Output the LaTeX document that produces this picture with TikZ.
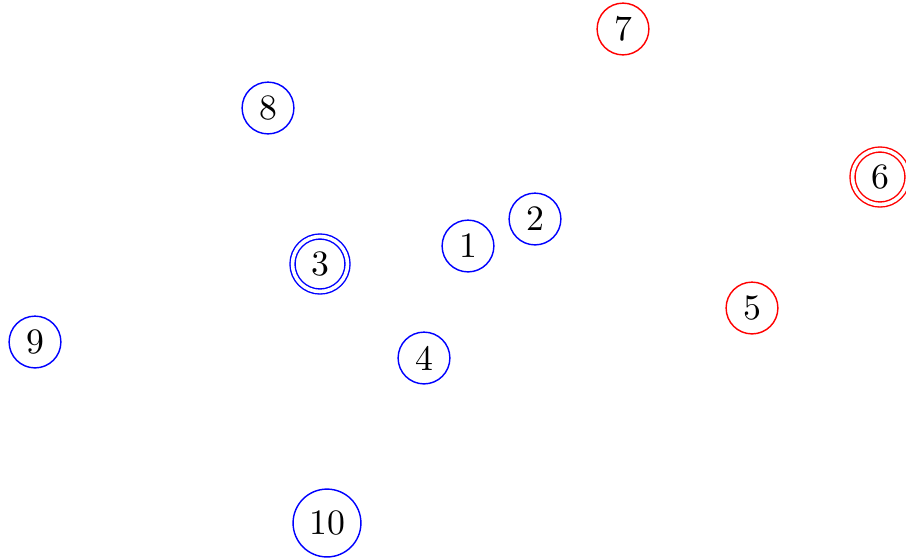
\documentclass[tikz,border=0pt]{standalone}
\begin{document}
\begin{tikzpicture}[x=0.28pt,y=-0.28pt,
  st/.style={circle,draw,inner sep=0pt,minimum size=14.5pt,line width=0.4pt},
  bl/.style={st,draw=blue},
  rd/.style={st,draw=red},
  acc/.style={double,double distance=1pt,minimum size=15.4pt}]
\useasboundingbox (0,0) rectangle (906,557);
\node[rd] (n7) at (623,29) {7};
\node[bl] (n8) at (268,108) {8};
\node[rd,acc] (n6) at (880,177) {6};
\node[bl] (n2) at (535,219) {2};
\node[bl] (n1) at (468,246) {1};
\node[bl,acc] (n3) at (320,264) {3};
\node[rd] (n5) at (752,308) {5};
\node[bl] (n9) at (35,342) {9};
\node[bl] (n4) at (424,358) {4};
\node[bl,minimum size=19pt] (n10) at (327,523) {10};
\end{tikzpicture}
\end{document}
